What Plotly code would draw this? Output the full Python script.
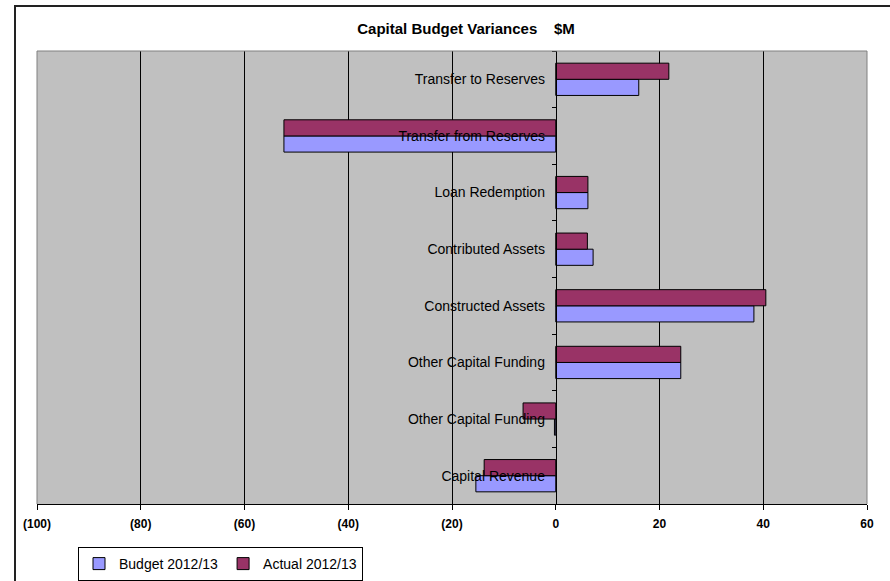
import plotly.graph_objects as go

# Data (bottom to top, as drawn)
categories = [
    "Capital Revenue",
    "Other Capital Funding",
    "Other Capital Funding",
    "Constructed Assets",
    "Contributed Assets",
    "Loan Redemption",
    "Transfer from Reserves",
    "Transfer to Reserves",
]
budget_2012_13 = [-15.4, -0.25, 24.1, 38.2, 7.2, 6.2, -52.4, 16.0]
actual_2012_13 = [-13.8, -6.3, 24.1, 40.5, 6.1, 6.2, -52.4, 21.8]

x_tickvals = [-100, -80, -60, -40, -20, 0, 20, 40, 60]
x_ticktext = ["(100)", "(80)", "(60)", "(40)", "(20)", "0", "20", "40", "60"]
x_grid = [-80, -60, -40, -20, 20, 40]

positions = list(range(len(categories)))

FONT = "Liberation Sans, Arial, sans-serif"

fig = go.Figure()
fig.add_trace(go.Bar(
    y=positions, x=budget_2012_13, orientation="h", name="Budget 2012/13",
    marker=dict(color="#9999FF", line=dict(color="black", width=1)),
))
fig.add_trace(go.Bar(
    y=positions, x=actual_2012_13, orientation="h", name="Actual 2012/13",
    marker=dict(color="#993366", line=dict(color="black", width=1)),
))

W, H = 890, 581
L, R, T, B = 37, 23, 51, 77
pw, ph = W - L - R, H - T - B


def px_x(p):
    return (p - L) / pw


def px_y(p):
    return (H - B - p) / ph


fig.update_layout(
    width=W, height=H,
    autosize=False,
    margin=dict(l=L, r=R, t=T, b=B, pad=0, autoexpand=False),
    paper_bgcolor="white",
    plot_bgcolor="#C0C0C0",
    barmode="group",
    bargap=0.43,
    bargroupgap=0,
    font=dict(family=FONT, color="black", size=14),
    title=dict(
        text="<b>Capital Budget Variances\u00a0\u00a0\u00a0\u00a0$M</b>",
        font=dict(family=FONT, size=15, color="black"),
        x=466 / W, xref="container", xanchor="center",
        y=1 - 29 / H, yref="container", yanchor="middle",
    ),
    showlegend=True,
    legend=dict(
        orientation="h",
        xref="container", yref="container",
        x=78 / W, xanchor="left",
        y=1 - 547 / H, yanchor="top",
        bordercolor="black", borderwidth=1, bgcolor="white",
        font=dict(family=FONT, size=14, color="black"),
        traceorder="normal",
    ),
    xaxis=dict(
        range=[-100, 60],
        tickmode="array", tickvals=x_tickvals, ticktext=x_ticktext,
        tickfont=dict(family=FONT, size=12, color="black", weight="bold"),
        ticks="outside", ticklen=5, tickcolor="black", tickwidth=1,
        ticklabelstandoff=4,
        showline=True, linecolor="black", linewidth=1,
        showgrid=False, zeroline=False,
        minor=dict(tickmode="array", tickvals=x_grid, showgrid=True,
                   gridcolor="black", gridwidth=1, ticks=""),
        fixedrange=True,
    ),
    yaxis=dict(
        range=[-0.5, len(categories) - 0.5],
        tickmode="array", tickvals=positions, ticktext=categories,
        tickfont=dict(family=FONT, size=14, color="black"),
        ticks="", ticklabelstandoff=8,
        anchor="free", position=100 / 160,
        showline=True, linecolor="black", linewidth=1,
        showgrid=False, zeroline=False,
        minor=dict(tickmode="array",
                   tickvals=[i - 0.5 for i in range(len(categories) + 1)],
                   ticks="outside", ticklen=4, tickcolor="black", showgrid=False),
        fixedrange=True,
    ),
    shapes=[
        # plot area border (top, left, right)
        dict(type="line", xref="paper", yref="paper", x0=0, x1=1, y0=1, y1=1,
             line=dict(color="#808080", width=1), layer="above"),
        dict(type="line", xref="paper", yref="paper", x0=0, x1=0, y0=0, y1=1,
             line=dict(color="#808080", width=1), layer="above"),
        dict(type="line", xref="paper", yref="paper", x0=1, x1=1, y0=0, y1=1,
             line=dict(color="#808080", width=1), layer="above"),
        # outer chart border
        dict(type="rect", xref="paper", yref="paper",
             x0=px_x(15), x1=px_x(900), y0=px_y(600), y1=px_y(6),
             line=dict(color="#222222", width=2), fillcolor="rgba(0,0,0,0)",
             layer="above"),
    ],
)

fig.write_html(
    "out.html",
    config={"displayModeBar": False},
    post_script="document.body.style.margin='0px';document.body.style.overflow='hidden';",
)
